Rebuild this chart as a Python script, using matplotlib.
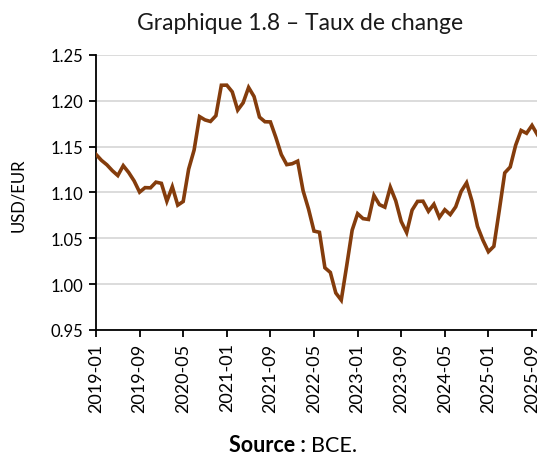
import matplotlib
matplotlib.use("Agg")
import matplotlib.pyplot as plt
import numpy as np

months = [f"{y}-{m:02d}" for y in range(2019, 2026) for m in range(1, 13)][:82]
usd_eur = [
    1.1416, 1.1351, 1.1302, 1.1238, 1.1185, 1.1293, 1.1218, 1.1126, 1.1004, 1.1053, 1.1051, 1.1113,
    1.1100, 1.0905, 1.1063, 1.0862, 1.0902, 1.1255, 1.1463, 1.1828, 1.1792, 1.1775, 1.1838, 1.2170,
    1.2171, 1.2098, 1.1899, 1.1979, 1.2146, 1.2047, 1.1822, 1.1772, 1.1770, 1.1601, 1.1414, 1.1304,
    1.1314, 1.1342, 1.1019, 1.0819, 1.0579, 1.0566, 1.0179, 1.0128, 0.9904, 0.9826, 1.0201, 1.0589,
    1.0769, 1.0715, 1.0706, 1.0968, 1.0868, 1.0840, 1.1058, 1.0909, 1.0684, 1.0563, 1.0808, 1.0903,
    1.0905, 1.0795, 1.0872, 1.0728, 1.0812, 1.0759, 1.0844, 1.1012, 1.1106, 1.0904, 1.0630, 1.0479,
    1.0354, 1.0413, 1.0807, 1.1214, 1.1278, 1.1516, 1.1677, 1.1646, 1.1732, 1.1630,
]
yticks = [0.95, 1.00, 1.05, 1.10, 1.15, 1.20, 1.25]
title = "Graphique 1.8 – Taux de change"
ylabel = "USD/EUR"

W, H = 537, 456
fig = plt.figure(figsize=(W / 100, H / 100), dpi=100)
left, right = 96, 537
top, bottom = 56, 331
ax = fig.add_axes([left / W, 1 - bottom / H, (right - left) / W, (bottom - top) / H])

font = "Lato"
x = np.arange(len(months))
ax.plot(x, usd_eur, color="#843C0C", lw=2.6, solid_joinstyle="miter", zorder=3)

ax.set_ylim(0.95, 1.25)
ax.set_yticks(yticks)
ax.set_yticklabels([f"{v:.2f}" for v in yticks], fontfamily=font, fontsize=12)
px_per_month = 5.45
ax.set_xlim(0, (right - left) / px_per_month)
tick_idx = list(range(0, len(months), 8))
ax.set_xticks(tick_idx)
ax.set_xticklabels([months[i] for i in tick_idx], rotation=90, fontfamily=font, fontsize=13)

ax.grid(axis="y", color="#d9d9d9", lw=1.3, zorder=0)
ax.set_axisbelow(True)
for s in ["top", "right"]:
    ax.spines[s].set_visible(False)
for s in ["left", "bottom"]:
    ax.spines[s].set_color("black")
    ax.spines[s].set_linewidth(1.3)
ax.tick_params(axis="both", direction="out", length=5, width=1.3, color="black", pad=4)

fig.text(18 / W, 1 - 195 / H, ylabel, rotation=90, ha="center", va="center",
         fontfamily=font, fontsize=12)
fig.text(300 / W, 1 - 24 / H, title, ha="center", va="center", fontfamily=font,
         fontsize=16.5, color="#1a1a1a")
fig.text(311 / W, 1 - 446 / H, "Source : ", ha="right", va="center",
         fontfamily=font, fontsize=15.5, fontweight="bold")
fig.text(311 / W, 1 - 446 / H, "BCE.", ha="left", va="center",
         fontfamily=font, fontsize=15.5)

fig.savefig("out.png", dpi=100)
